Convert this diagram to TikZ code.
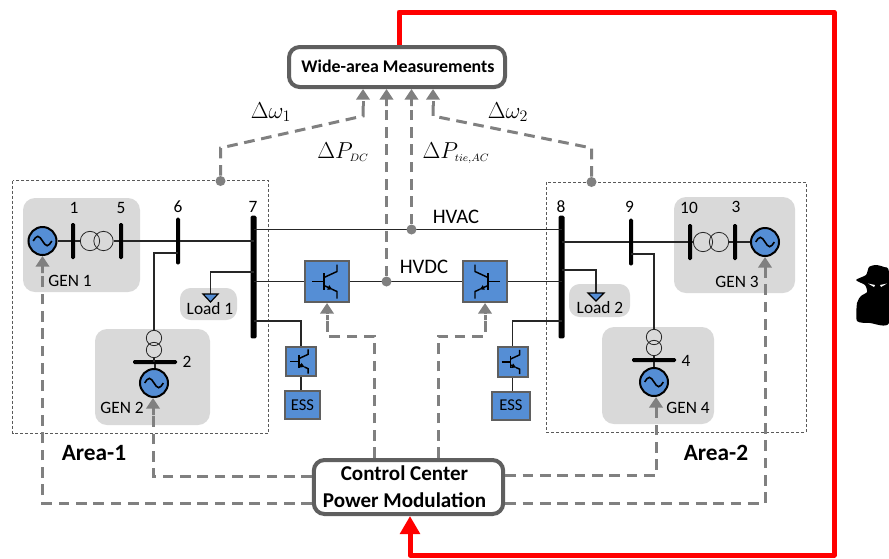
\documentclass[tikz,border=0pt]{standalone}
\usepackage{amsmath, amssymb}
\usepackage{fontspec}
\setmainfont{Carlito}
\usepackage{xcolor}
\usetikzlibrary{arrows.meta}

\definecolor{boxblue}{HTML}{558ED5}
\definecolor{boxgray}{HTML}{D9D9D9}
\definecolor{edgegray}{HTML}{5F5F5F}
\definecolor{siggray}{HTML}{808080}

\tikzset{
  wire/.style={line width=0.8pt, black!85},
  sig/.style={line width=2.25pt, siggray, dash pattern=on 8pt off 5pt},
  sigtip/.style={sig, -{Rectangle[length=6pt,width=2.25pt] Triangle[length=8pt,width=10pt]}},
  attack/.style={line width=3.75pt, red, line join=round},
  area/.style={draw=black!65, line width=0.6pt, dash pattern=on 2.25pt off 1.5pt},
  zone/.style={fill=boxgray, rounded corners=9pt},
  bus/.style={fill=black, rounded corners=1pt, inner sep=0pt, minimum width=3pt},
  xfmr/.style={circle, draw=black!85, line width=0.6pt, inner sep=0pt},
  gen/.style={circle, draw=black, fill=boxblue, line width=1.5pt, inner sep=0pt, minimum size=21pt,
    path picture={\draw[shift={(path picture bounding box.center)}, line width=1.2pt]
      (-7pt,0pt) sin (-3.5pt,3.5pt) cos (0pt,0pt) sin (3.5pt,-3.5pt) cos (7pt,0pt);}},
  conv/.style={draw=edgegray, fill=boxblue, line width=1.5pt, inner sep=0pt},
  mainbox/.style={draw=edgegray, fill=white, line width=3pt, rounded corners=8pt, inner sep=0pt},
  dot/.style={circle, fill=siggray, inner sep=0pt, minimum size=7.5pt},
  lbl/.style={font=\fontsize{13}{15}\selectfont, inner sep=0pt},
  bigl/.style={font=\fontsize{15.5}{18}\selectfont, inner sep=0pt},
  boldl/.style={font=\fontsize{13.4}{16}\selectfont\bfseries, inner sep=0pt},
  mathl/.style={font=\fontsize{17.5}{20}\selectfont, inner sep=0pt},
  igbt/.pic={
    \draw[line width=1.1pt] (-15,0) -- (-3,0) (-3,-8.5) -- (-3,8.5);
    \draw[line width=1.1pt] (-3,-4) -- (10,-10) -- (10,-17);
    \draw[line width=1.1pt, -{Latex[length=4pt,width=4pt]}] (-3,4) -- (6,8.2);
    \draw[line width=1.1pt] (5,7.7) -- (10,10) -- (10,17);
  }
}

\begin{document}
\begin{tikzpicture}[x=0.75pt, y=-0.75pt]
    \useasboundingbox (0,0) rectangle (889,558);

    % Areas and grey zones
    \draw[area] (12.5,180.5) rectangle (268.5,433);
    \draw[area] (546,182) rectangle (806,432);
    \path[zone] (23,198) rectangle (140,292);
    \path[zone] (95,329) rectangle (210,425);
    \path[zone] (674,197) rectangle (795,293);
    \path[zone] (602,327) rectangle (714,424);
    \path[zone, rounded corners=8pt] (180,288) rectangle (237,320);
    \path[zone, rounded corners=8pt] (569,284) rectangle (630,317);

    % Generators
    \node[gen] (gen1) at (42.5,241) {};
    \node[gen] (gen2) at (154,383) {};
    \node[gen] (gen3) at (765,242) {};
    \node[gen] (gen4) at (654,382) {};

    % Buses
    \node[bus, minimum height=27pt] (bus1) at (73,241) {};
    \node[bus, minimum height=27pt] (bus5) at (121,241) {};
    \node[bus, minimum height=35pt] (bus6) at (178,241) {};
    \node[bus, minimum width=4.5pt, minimum height=92pt] (bus7) at (253.5,277) {};
    \node[bus, minimum width=4.5pt, minimum height=92pt] (bus8) at (561.5,277) {};
    \node[bus, minimum height=35pt] (bus9) at (631,242) {};
    \node[bus, minimum height=27pt] (bus10) at (690,242) {};
    \node[bus, minimum height=27pt] (bus3) at (735,242) {};
    \node[bus, minimum width=33pt, minimum height=3pt] (bus2) at (155,362) {};
    \node[bus, minimum width=33pt, minimum height=3pt] (bus4) at (654,360) {};

    % Transformers
    \node[xfmr, minimum size=14.5pt] (tr1a) at (90,241) {};
    \node[xfmr, minimum size=14.5pt] (tr1b) at (103.5,241) {};
    \node[xfmr, minimum size=14.5pt] (tr3a) at (703,242) {};
    \node[xfmr, minimum size=14.5pt] (tr3b) at (719,242) {};
    \node[xfmr, minimum size=11.5pt] (tr2a) at (154,338) {};
    \node[xfmr, minimum size=11.5pt] (tr2b) at (154,350) {};
    \node[xfmr, minimum size=11.5pt] (tr4a) at (654,337) {};
    \node[xfmr, minimum size=11.5pt] (tr4b) at (654,348) {};

    % Converters and storage
    \node[conv, minimum width=33pt, minimum height=30.75pt] (convL) at (327,281.5) {};
    \node[conv, minimum width=33pt, minimum height=30.75pt] (convR) at (485,281.5) {};
    \node[conv, minimum width=22.5pt, minimum height=22pt] (escL) at (301,361.5) {};
    \node[conv, minimum width=22.5pt, minimum height=22pt] (escR) at (512.5,362) {};
    \node[conv, minimum width=26pt, minimum height=21pt, font=\fontsize{12.4}{14}\selectfont] (essL) at (302.5,405) {ESS};
    \node[conv, minimum width=28pt, minimum height=21pt, font=\fontsize{12.4}{14}\selectfont] (essR) at (511,405.5) {ESS};
    \pic at (convL) {igbt};
    \pic[xscale=-1] at (convR) {igbt};
    \pic[scale=0.72] at (escL) {igbt};
    \pic[scale=0.72] at (escR) {igbt};

    % Main boxes
    \node[mainbox, minimum width=162pt, minimum height=30pt] (wam) at (397,67) {};
    \node[boldl] (wamtext) at (398,66) {Wide-area Measurements};
    \node[mainbox, minimum width=142pt, minimum height=40.5pt] (control) at (408.5,487) {};
    \node[boldl, font=\fontsize{15.8}{18}\selectfont\bfseries, align=center] (controltext) at (404.5,487) {Control Center\\[2pt]Power Modulation};

    % Corner points
    \coordinate (c6) at (154,253);
    \coordinate (c9) at (654,254);
    \coordinate (load1) at (210.5,272);
    \coordinate (load2) at (596,270);
    \coordinate (acpt) at (411.5,229.5);
    \coordinate (esspt) at (301,321);
    \coordinate (esspr) at (512.5,321);
    \coordinate (tip1) at (210.5,302);
    \coordinate (tip2) at (596,301);

    % Network lines
    \draw[wire] (gen1) -- (bus1) (bus1) -- (tr1a) (tr1b) -- (bus5) (bus5) -- (bus6) (bus6) -- (bus6 -| bus7);
    \draw[wire] (gen3) -- (bus3) (bus3) -- (tr3b) (tr3a) -- (bus10) (bus10) -- (bus9) (bus9) -- (bus9 -| bus8);
    \draw[wire] (bus6 |- c6) -- (c6) -- (tr2a);
    \draw[wire] (bus9 |- c9) -- (c9) -- (tr4a);
    \draw[wire] (tr2b) -- (tr2b |- bus2) (bus2) -- (bus2 |- gen2.north);
    \draw[wire] (tr4b) -- (bus4) -- (gen4);
    \draw[wire] (bus7 |- acpt) -- (bus8 |- acpt);
    \draw[wire] (bus7 |- convL) -- (convL) (convR) -- (bus8 |- convR);
    \draw[wire] (convL) -- (convR);
    \draw[wire] (bus7 |- esspt) -- (esspt) -- (escL);
    \draw[wire] (bus8 |- esspr) -- (esspr) -- (escR);
    \draw[wire] (escL.south) -- (escL.south |- essL.north);
    \draw[wire] (escR.south) -- (escR.south |- essR.north);

    % Loads
    \draw[wire] (bus7 |- load1) -- (load1) -- (210.5,294);
    \draw[wire] (bus8 |- load2) -- (load2) -- (596,293);
    \draw[fill=boxblue, line width=0.9pt] (203,294) -- (218,294) -- (tip1) -- cycle;
    \draw[fill=boxblue, line width=0.9pt] (588,293) -- (604,293) -- (tip2) -- cycle;
    \node[lbl] (load1text) at (210,309) {Load 1};
    \node[lbl] (load2text) at (600,308) {Load 2};

    % Measuring points
    \node[dot] (dotA1) at (220.5,181) {};
    \node[dot] (dotA2) at (591.5,182) {};
    \node[dot] (dotAC) at (acpt) {};
    \node[dot] (dotDC) at (386.5,281.5) {};

    % Measurement signals
    \draw[sigtip] (dotA1) -- (220.5,148) -- (363,116) -- (wam.south -| 363,116);
    \draw[sigtip] (dotA2) -- (591.5,148) -- (433,116) -- (wam.south -| 433,116);
    \draw[sigtip] (dotDC) -- (wam.south -| dotDC);
    \draw[sigtip] (dotAC) -- (wam.south -| dotAC);

    % Control signals
    \draw[sigtip] (control.west |- 0,503) -- (42.5,503) -- (gen1.south);
    \draw[sigtip] (control.west |- 0,476) -- (153,476) -- (gen2.south -| 153,476);
    \draw[sigtip] (control.east |- 0,503) -- (765,503) -- (gen3.south);
    \draw[sigtip] (control.east |- 0,475) -- (656,475) -- (gen4.south -| 656,475);
    \draw[sigtip] (control.north -| 374,336) -- (374,336) -- (327,336) -- (convL.south);
    \draw[sigtip] (control.north -| 438,336) -- (438,336) -- (485,336) -- (convR.south);

    % Attack path
    \coordinate (redA) at (399,12);
    \coordinate (redB) at (834,12);
    \coordinate (redC) at (834,555);
    \coordinate (redD) at (410,555);
    \draw[attack, -{Triangle[length=13.5pt,width=14.5pt]}] (wam.north -| redA) -- (redA) -- (redB) -- (redC) -- (redD) -- (control.south -| redD);

    % Attacker
    \fill[black] plot[smooth cycle, tension=0.4] coordinates {(856,280) (866,275) (869,267) (876,265) (884,267) (889,272)
        (889,323) (870,323) (857,321) (857,303) (861,296) (867,292) (865,285)};
    \fill[white] (868,283.5) -- (875,285) -- (874,287) -- cycle;
    \fill[white] (887,283.5) -- (880,285) -- (881,287) -- cycle;

    % Labels
    \node[lbl] (n1) at (74,208) {1};
    \node[lbl] (n5) at (121,208) {5};
    \node[lbl] (n6) at (178,207) {6};
    \node[lbl] (n7) at (253,207) {7};
    \node[lbl] (n8) at (561,207) {8};
    \node[lbl] (n9) at (629.5,207) {9};
    \node[lbl] (n10) at (689,208) {10};
    \node[lbl] (n3) at (736,207) {3};
    \node[lbl] (n2) at (187,362) {2};
    \node[lbl] (n4) at (686,361) {4};
    \node[lbl] (gen1text) at (70,281) {GEN 1};
    \node[lbl] (gen2text) at (122,408) {GEN 2};
    \node[lbl] (gen3text) at (737,282) {GEN 3};
    \node[lbl] (gen4text) at (688,408) {GEN 4};
    \node[bigl] (hvac) at (456,217) {HVAC};
    \node[bigl] (hvdc) at (424,267) {HVDC};
    \node[boldl, font=\fontsize{17.5}{20}\selectfont\bfseries] (area1) at (94,453) {Area-1};
    \node[boldl, font=\fontsize{17.5}{20}\selectfont\bfseries] (area2) at (716,453) {Area-2};
    \node[mathl] (w1) at (271,112) {$\Delta\omega_1$};
    \node[mathl] (w2) at (508,112) {$\Delta\omega_2$};
    \node[mathl, font=\fontsize{16}{20}\selectfont] (pdc) at (343,152) {$\Delta P_{\scriptscriptstyle DC}$};
    \node[mathl, font=\fontsize{16}{20}\selectfont] (ptie) at (456,153) {$\Delta P_{\scriptscriptstyle tie,AC}$};
\end{tikzpicture}
\end{document}
